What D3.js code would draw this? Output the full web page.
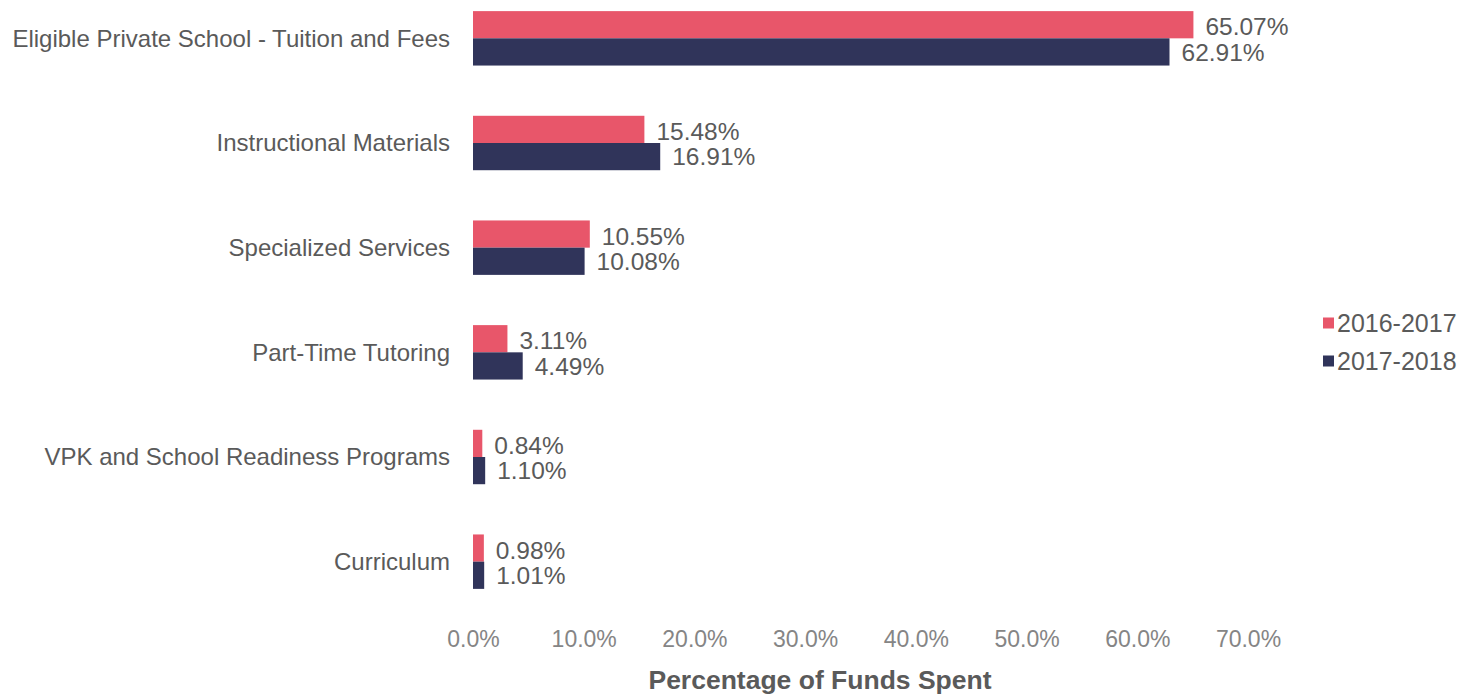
<!DOCTYPE html>
<html>
<head>
<meta charset="utf-8">
<script src="https://cdn.jsdelivr.net/npm/d3@7"></script>
<style>
  body { margin: 0; background: #fff; }
  svg { font-family: "Liberation Sans", Arial, sans-serif; }
</style>
</head>
<body>
<svg width="1458" height="695"></svg>
<script>
const categories = [
  'Eligible Private School - Tuition and Fees',
  'Instructional Materials',
  'Specialized Services',
  'Part-Time Tutoring',
  'VPK and School Readiness Programs',
  'Curriculum'
];
const years = ['2016-2017', '2017-2018'];
const values2016 = [65.07, 15.48, 10.55, 3.11, 0.84, 0.98];
const values2017 = [62.91, 16.91, 10.08, 4.49, 1.10, 1.01];
const ticks = [0, 10, 20, 30, 40, 50, 60, 70];
const colors = ['#e8566a', '#30345a'];

const svg = d3.select('svg');

let x = d3.scaleLinear().domain([0, 70]).range([473, 1248]);
let y = d3.scaleBand().domain(categories).range([-14, 614]).paddingInner(0.48).paddingOuter(0.24);
let sub = d3.scaleBand().domain(years).range([0, y.bandwidth()]);

const series = [values2016, values2017];

categories.forEach((cat, i) => {
  series.forEach((vals, s) => {
    let y0 = y(cat) + sub(years[s]);
    svg.append('rect')
      .attr('x', x(0))
      .attr('y', y0)
      .attr('width', x(vals[i]) - x(0))
      .attr('height', sub.bandwidth())
      .attr('fill', colors[s]);
    svg.append('text')
      .attr('x', x(vals[i]) + 12)
      .attr('y', y0 + sub.bandwidth() / 2 + (s === 0 ? 2 : 0))
      .attr('dy', '0.35em')
      .attr('font-size', 24.5)
      .attr('fill', '#5a5a5a')
      .text(vals[i].toFixed(2) + '%');
  });
  svg.append('text')
    .attr('x', 450)
    .attr('y', y(cat) + y.bandwidth() / 2)
    .attr('dy', '0.35em')
    .attr('text-anchor', 'end')
    .attr('font-size', 24)
    .attr('fill', '#5a5a5a')
    .text(cat);
});

let axis = d3.axisBottom(x).tickValues(ticks).tickSize(0).tickPadding(0)
  .tickFormat((d) => d.toFixed(1) + '%');
let gx = svg.append('g').attr('transform', 'translate(0,631)').call(axis);
gx.select('.domain').remove();
gx.selectAll('text')
  .attr('font-size', 23)
  .attr('font-family', '"Liberation Sans", Arial, sans-serif')
  .attr('fill', '#858585');

svg.append('text')
  .attr('x', 820)
  .attr('y', 680)
  .attr('dy', '0.35em')
  .attr('text-anchor', 'middle')
  .attr('font-size', 26.5)
  .attr('font-weight', 'bold')
  .attr('fill', '#5a5a5a')
  .text('Percentage of Funds Spent');

years.forEach((yr, i) => {
  let ly = 323 + i * 38;
  svg.append('rect')
    .attr('x', 1323).attr('y', ly - 5.5)
    .attr('width', 11).attr('height', 11)
    .attr('fill', colors[i]);
  svg.append('text')
    .attr('x', 1337).attr('y', ly)
    .attr('dy', '0.35em')
    .attr('font-size', 25)
    .attr('fill', '#5a5a5a')
    .text(yr);
});
</script>
</body>
</html>
